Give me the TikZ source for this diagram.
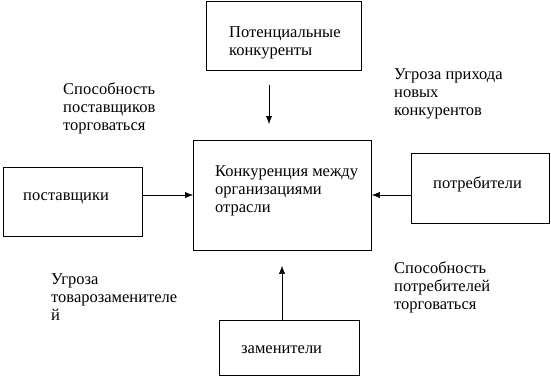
\documentclass[tikz,border=0pt]{standalone}
\usepackage{fontspec}
\setmainfont{Liberation Serif}
\usetikzlibrary{arrows.meta}

\begin{document}
\begin{tikzpicture}[x=1pt, y=-1pt, >={Latex[length=8pt, width=6pt]},
    blk/.style={draw, line width=0.8pt, anchor=north west, inner sep=0pt},
    txt/.style={anchor=base west, inner sep=0pt, align=left,
        font=\fontsize{16.5}{18}\selectfont}]
    \useasboundingbox (0,0) rectangle (551,376);

    % boxes
    \node[blk, minimum width=155pt, minimum height=69pt] (pot) at (206,1) {};
    \node[blk, minimum width=178pt, minimum height=110pt] (org) at (193,140) {};
    \node[blk, minimum width=139pt, minimum height=69pt] (supp) at (3,167) {};
    \node[blk, minimum width=138pt, minimum height=70pt] (cons) at (411,153) {};
    \node[blk, minimum width=140pt, minimum height=55pt] (subst) at (219,320) {};

    % texts in boxes (y = baseline of the last line)
    \node[txt] (potT) at (229,55) {Потенциальные\\конкуренты};
    \node[txt] (orgT) at (215,212) {Конкуренция между\\организациями\\отрасли};
    \node[txt] (suppT) at (23,200) {поставщики};
    \node[txt] (consT) at (433,188) {потребители};
    \node[txt] (substT) at (241,353) {заменители};

    % forces
    \foreach \nm/\px/\py/\lbl in {suppF/63/130/{Способность\\поставщиков\\торговаться},
        newF/394/115/{Угроза прихода\\новых\\конкурентов},
        substF/51/320/{Угроза\\товарозаменителе\\й},
        consF/394/309/{Способность\\потребителей\\торговаться}}
        \node[txt] (\nm) at (\px,\py) {\lbl};

    \draw[->, shorten <=14pt, shorten >=16pt] (pot.south -| 269,0) -- (org.north -| 269,0);
    \draw[->] (supp.east |- 0,195) -- (org.west |- 0,195);
    \draw[->] (cons.west |- 0,195) -- (org.east |- 0,195);
    \draw[->, shorten >=15pt] (subst.north -| 282,0) -- (org.south -| 282,0);
\end{tikzpicture}
\end{document}
